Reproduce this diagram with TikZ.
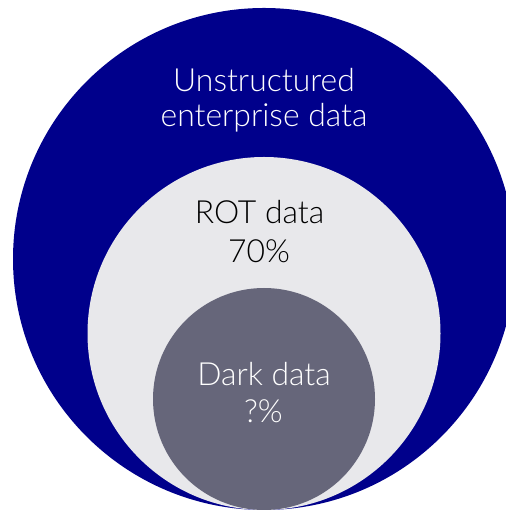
\documentclass[tikz,border=0pt]{standalone}
\usepackage{fontspec}
\setmainfont{Lato}[UprightFont=* Light]
\definecolor{navy}{RGB}{0,0,139}
\definecolor{rotgray}{RGB}{232,232,235}
\definecolor{darkgray}{RGB}{102,102,122}
\begin{document}
\begin{tikzpicture}[x=1bp,y=1bp]
            \tikzstyle{every node}+=[inner sep=0pt,anchor=base,font=\fontsize{32}{38}\selectfont]
            \useasboundingbox (0,0) rectangle (506,511);
            \fill [navy] (264,252) circle (251);
            \fill [rotgray] (264,177.5) circle (176.5);
            \fill [darkgray] (264,112) circle (111);
            \node [white] (unstr) at (264,419) {Unstructured};
            \node [white] (enter) at (264,384) {enterprise data};
            \node [black] (rot) at (259.5,287) {ROT data};
            \node [black] (rotpct) at (259,248) {70\%};
            \node [white] (dark) at (264,125) {Dark data};
            \node [white] (darkpct) at (263.5,88) {?\%};
        \end{tikzpicture}
\end{document}
